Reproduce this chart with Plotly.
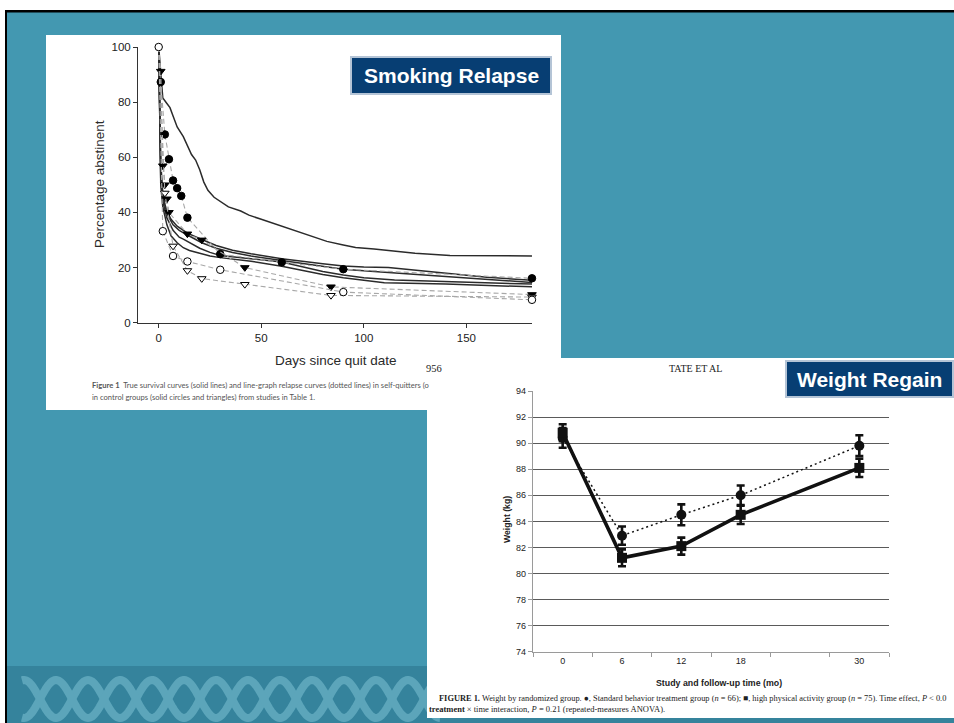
import numpy as np
import plotly.graph_objects as go

W, H = 954, 723


def fx(p):
    return p / W


def fy(p):
    return 1 - p / H


# ---------------- Smoking relapse: survival curves (solid lines) ----------------
surv_a_days = [0, 1, 2, 4, 5.5, 7, 9, 12, 14, 16, 18, 20, 22, 24, 27, 30, 34, 40, 44, 50,
               60, 68, 75, 82, 90, 96, 105, 113, 125, 142, 160, 182]
surv_a_pct = [100, 90, 81.5, 79.5, 78, 75, 71, 67.5, 64.5, 61, 59, 55.5, 51, 48, 45.5, 44, 42,
              40.5, 39, 37.5, 35, 33, 31, 29.5, 28.2, 27.3, 26.7, 26.1, 25.2, 24.4, 24.3, 24.2]

surv_b_days = [0, 1, 2, 3, 4, 6, 9, 14, 21, 28, 36, 45, 60, 70, 80, 90, 100, 112, 125, 140, 160, 182]
surv_b_pct = [100, 58, 47, 43, 40.5, 37.5, 35, 32.5, 30.2, 28, 26.3, 25, 23.2, 22.2, 21.4, 20.6,
              20.2, 20, 19, 17.8, 16.5, 15.4]

surv_c_days = [0, 1, 2, 4, 7, 10, 14, 21, 28, 36, 45, 60, 70, 80, 90, 105, 120, 140, 160, 182]
surv_c_pct = [100, 55, 46, 39.5, 35.5, 33.5, 31.8, 29, 27, 25.5, 24.2, 22.6, 21.5, 20.4, 19.4,
              18.6, 17.8, 16.8, 15.8, 14.6]

surv_d_days = [0, 1, 2, 4, 7, 10, 12, 16, 20, 25, 30, 45, 60, 70, 80, 90, 100, 115, 140, 160, 182]
surv_d_pct = [100, 52, 44, 38, 33.5, 31, 30.3, 28.5, 27, 25.5, 24.4, 23.2, 22, 20.3, 18.6, 17.3,
              16.3, 15.5, 15, 14.4, 14]

surv_e_days = [0, 1, 2, 4, 6, 9, 12, 15, 20, 25, 30, 45, 60, 70, 80, 90, 100, 110, 140, 160, 182]
surv_e_pct = [100, 50, 42, 35.5, 31.5, 29, 27.2, 26.2, 25.2, 24.2, 23.6, 22.3, 20.5, 19, 17.5,
              16.3, 15.3, 14.5, 14, 13.6, 13]

# ---------------- Smoking relapse: line-graph relapse curves (dashed) ----------------
ctrl_circle_days = [0, 1, 3, 5, 7, 9, 11, 14, 30, 60, 90, 182]
ctrl_circle_pct = [100, 87.3, 68.3, 59.3, 51.6, 48.8, 46.0, 38.1, 24.9, 21.9, 19.4, 16.1]

ctrl_tri_days = [0, 1, 2, 3, 4, 5, 14, 21, 42, 84, 182]
ctrl_tri_pct = [100, 91.2, 56.9, 50, 44.9, 40, 32.2, 30, 20, 13, 10.2]

self_circle_days = [0, 2, 7, 14, 30, 90, 182]
self_circle_pct = [100, 33.2, 24.2, 22.2, 19.2, 11.1, 8.3]

self_tri_days = [0, 3, 7, 14, 21, 42, 84, 182]
self_tri_pct = [100, 47, 27.8, 18.9, 16, 13.9, 9.9, 9.3]

smoke_xticks = [0, 50, 100, 150]
smoke_yticks = [0, 20, 40, 60, 80, 100]

# ---------------- Weight regain ----------------
months = [0, 6, 12, 18, 30]
std_weight = [90.4, 82.9, 84.5, 86.0, 89.8]
std_err = [0.75, 0.7, 0.8, 0.75, 0.8]
hpa_weight = [90.8, 81.2, 82.1, 84.5, 88.1]
hpa_err = [0.65, 0.65, 0.65, 0.7, 0.7]
month_ticks = [0, 6, 12, 18, 30]
weight_ticks = list(range(74, 95, 2))

# ---------------- colours ----------------
TEAL = "#4398b1"
TEAL_DARK = "#35839c"
TEAL_PATTERN = "#5ca5ba"
NAVY = "#073e73"
INK = "#2a2a2a"

fig = go.Figure()

# survival curves
for d, p in [(surv_a_days, surv_a_pct), (surv_b_days, surv_b_pct), (surv_c_days, surv_c_pct),
             (surv_d_days, surv_d_pct), (surv_e_days, surv_e_pct)]:
    fig.add_trace(go.Scatter(x=d, y=p, mode="lines", line=dict(color="#2b2b2b", width=1.5),
                             xaxis="x", yaxis="y", showlegend=False, hoverinfo="skip"))

# relapse curves with markers
relapse = [
    (ctrl_circle_days, ctrl_circle_pct, "circle", "#000000", 7.5),
    (ctrl_tri_days, ctrl_tri_pct, "triangle-down", "#000000", 7.5),
    (self_tri_days, self_tri_pct, "triangle-down", "white", 7.5),
    (self_circle_days, self_circle_pct, "circle", "white", 7.5),
]
for d, p, sym, fill, sz in relapse:
    sizes = [sz] * len(d)
    if fill != "white" or sym != "circle":
        sizes[0] = 0
    fig.add_trace(go.Scatter(
        x=d, y=p, mode="lines+markers",
        line=dict(color="#a8a8a8", width=1.1, dash="5px,3px"),
        marker=dict(symbol=sym, size=sizes, color=fill, opacity=1,
                    line=dict(color="#000000", width=1)),
        xaxis="x", yaxis="y", showlegend=False, hoverinfo="skip", cliponaxis=False))

# weight curves
fig.add_trace(go.Scatter(
    x=months, y=std_weight, mode="lines+markers",
    line=dict(color="#111111", width=1.5, dash="2px,3px"),
    marker=dict(symbol="circle", size=10, color="#111111"),
    error_y=dict(type="data", array=std_err, color="#111111", thickness=2.6, width=4),
    xaxis="x2", yaxis="y2", showlegend=False, hoverinfo="skip", cliponaxis=False))
fig.add_trace(go.Scatter(
    x=months, y=hpa_weight, mode="lines+markers",
    line=dict(color="#111111", width=3.6),
    marker=dict(symbol="square", size=10, color="#111111"),
    error_y=dict(type="data", array=hpa_err, color="#111111", thickness=2.6, width=4),
    xaxis="x2", yaxis="y2", showlegend=False, hoverinfo="skip", cliponaxis=False))

# ---------------- background shapes ----------------
shapes = []


def rect(x0, y0, x1, y1, fill, line_color=None, line_width=0):
    shapes.append(dict(type="rect", xref="paper", yref="paper",
                       x0=fx(x0), x1=fx(x1), y0=fy(y1), y1=fy(y0),
                       fillcolor=fill, layer="below",
                       line=dict(color=line_color or fill, width=line_width)))


rect(0, 0, W, H, "white")
rect(5, 10, W, H, "#000000")
rect(7, 12.5, W, H, TEAL)
rect(7, 666, W, H, TEAL_DARK)

# DNA-like strands along the bottom band
xs = np.linspace(22, 440, 400)
for sgn in (1, -1):
    ys = 699 + sgn * 19 * np.sin(np.pi * (xs - 40) / 32)
    path = "M " + " L ".join(f"{fx(a):.5f},{fy(b):.5f}" for a, b in zip(xs, ys))
    shapes.append(dict(type="path", xref="paper", yref="paper", path=path, layer="below",
                       line=dict(color=TEAL_PATTERN, width=8)))

# white paper panels
rect(427, 358, W, 718, "white")
rect(46, 35, 561, 410, "white")

# title boxes
rect(351, 57, 551, 94, NAVY, "#b4c4d6", 2)
rect(786, 361, 953, 397, NAVY, "#b4c4d6", 2)

# ---------------- annotations ----------------
ann = []


def text(x, y, s, size, family="Liberation Sans", color=INK, xanchor="center",
         yanchor="middle", angle=0):
    ann.append(dict(x=fx(x), y=fy(y), xref="paper", yref="paper", text=s, showarrow=False,
                    xanchor=xanchor, yanchor=yanchor, textangle=angle,
                    font=dict(family=family, size=size, color=color)))


text(451, 75.5, "<b>Smoking Relapse</b>", 21, color="white")
text(869.5, 379, "<b>Weight Regain</b>", 21, color="white")

text(99, 184, "Percentage abstinent", 13.5, angle=-90)
text(336, 360, "Days since quit date", 13.5)
text(434, 368, "956", 10.5, family="Liberation Serif", color="#222")
text(90, 385, "<b>Figure 1</b>  True survival curves (solid lines) and line-graph relapse curves "
              "(dotted lines) in self-quitters (o", 7.6, family="Lato", color="#555",
     xanchor="left")
text(90, 396.5, "in control groups (solid circles and triangles) from studies in Table 1.", 7.6,
     family="Lato", color="#555", xanchor="left")

text(695, 368, "TATE ET AL", 10, family="Liberation Serif", color="#222")
text(507, 520, "<b>Weight (kg)</b>", 8.7, angle=-90, color="#222")
text(719, 683, "<b>Study and follow-up time (mo)</b>", 8.8, color="#222")
text(437, 698, "<b>FIGURE 1.</b> Weight by randomized group. ●, Standard behavior treatment group "
               "(<i>n</i> = 66); ■, high physical activity group (<i>n</i> = 75). Time effect, "
               "<i>P</i> < 0.0", 8.4, family="Liberation Serif", color="#222", xanchor="left")
text(427, 708.5, "<b>treatment</b> × time interaction, <i>P</i> = 0.21 (repeated-measures ANOVA).",
     8.5, family="Liberation Serif", color="#222", xanchor="left")

# ---------------- axes ----------------
smoke_x0_px, smoke_x1_px = 138, 532
day0_px, px_per_day = 158.7, 2.051
smoke_range = [(smoke_x0_px - day0_px) / px_per_day, (smoke_x1_px - day0_px) / px_per_day]

fig.update_layout(
    width=W, height=H, margin=dict(l=0, r=0, t=0, b=0, pad=0, autoexpand=False),
    paper_bgcolor=TEAL, plot_bgcolor="rgba(0,0,0,0)",
    shapes=shapes, annotations=ann, showlegend=False,
    xaxis=dict(domain=[fx(smoke_x0_px), fx(smoke_x1_px)], range=smoke_range,
               tickvals=smoke_xticks, ticks="outside", ticklen=4, tickcolor="#333",
               showline=True, linecolor="#333", linewidth=1, showgrid=False, zeroline=False,
               automargin=False,
               tickfont=dict(family="Liberation Sans", size=11.5, color="#222"), anchor="y"),
    yaxis=dict(domain=[fy(322.7), fy(47)], range=[0, 100], tickvals=smoke_yticks,
               ticks="outside", ticklen=4, tickcolor="#333", showline=True, linecolor="#333",
               linewidth=1, showgrid=False, zeroline=False, automargin=False,
               tickfont=dict(family="Liberation Sans", size=11.5, color="#222"), anchor="x"),
    xaxis2=dict(domain=[fx(533), fx(889)], range=[-3, 33], tickvals=month_ticks,
                ticks="", showline=True, linecolor="#9a9a9a", linewidth=1.2, showgrid=False,
                zeroline=False, anchor="y2", automargin=False,
                minor=dict(tick0=-3, dtick=6, ticks="outside", ticklen=4, tickcolor="#9a9a9a",
                           showgrid=False),
                tickfont=dict(family="Liberation Sans", size=9, color="#222")),
    yaxis2=dict(domain=[fy(651.7), fy(391)], range=[74, 94], tickvals=weight_ticks,
                ticks="outside", ticklen=4, tickcolor="#9a9a9a", showline=True,
                linecolor="#9a9a9a", linewidth=1.2, showgrid=True, gridcolor="#5a5a5a",
                gridwidth=1, zeroline=False, anchor="x2", automargin=False,
                tickfont=dict(family="Liberation Sans", size=9, color="#222")),
)

fig.write_html("out.html")
